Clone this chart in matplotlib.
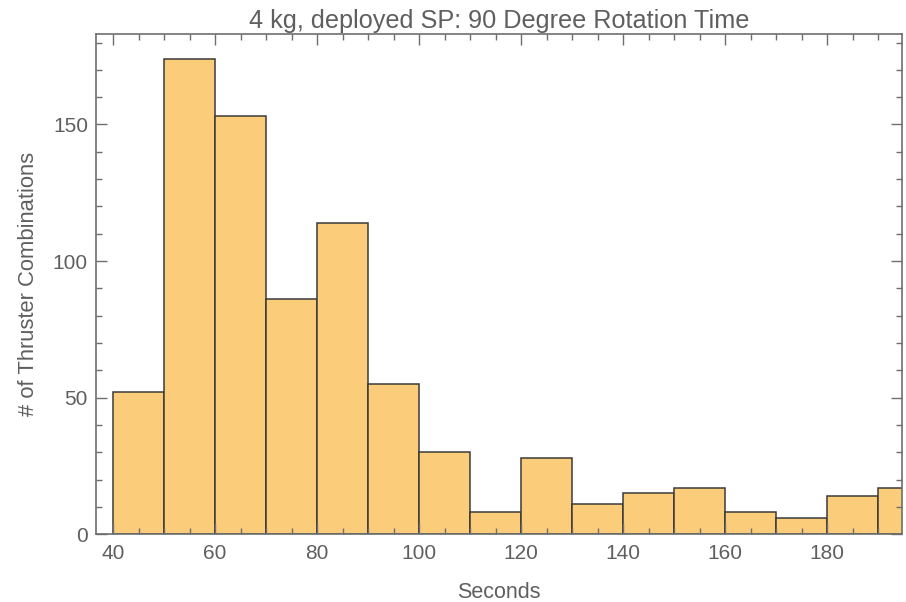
import numpy as np
import matplotlib.pyplot as plt
from matplotlib.ticker import MultipleLocator

# histogram van rotatietijden (bin breedte 10 s)
bin_start = [40, 50, 60, 70, 80, 90, 100, 110, 120, 130, 140, 150, 160, 170, 180, 190]
counts = [52, 174, 153, 86, 114, 55, 30, 8, 28, 11, 15, 17, 8, 6, 14, 17]
bin_width = 10

title = "4 kg, deployed SP: 90 Degree Rotation Time"
xlabel = "Seconds"
ylabel = "# of Thruster Combinations"

plt.rcParams['font.family'] = ['Liberation Sans', 'DejaVu Sans']
txt = '#5f5f5f'
frame = '#6e6e6e'

fig = plt.figure(figsize=(9.06, 6.02), dpi=100)
ax = fig.add_axes([0.1063, 0.1125, 0.8896, 0.8305])

ax.bar(bin_start, counts, width=bin_width, align='edge',
       color='#fbcc7a', edgecolor='#3a3a3a', linewidth=1.1)

ax.set_xlim(36.7, 194.7)
ax.set_ylim(0, 183)

ax.xaxis.set_major_locator(MultipleLocator(20))
ax.xaxis.set_minor_locator(MultipleLocator(5))
ax.yaxis.set_major_locator(MultipleLocator(50))
ax.yaxis.set_minor_locator(MultipleLocator(10))
ax.tick_params(which='both', direction='in', top=True, right=True,
               color=frame, labelcolor=txt, labelsize=15)
ax.tick_params(which='major', length=8, width=1)
ax.tick_params(which='minor', length=4, width=1)
ax.tick_params(axis='x', pad=7)
ax.tick_params(axis='y', pad=6)
for s in ax.spines.values():
    s.set_color(frame)
    s.set_linewidth(1.2)

ax.set_title(title, color=txt, fontsize=18.2, pad=4.5)
ax.set_xlabel(xlabel, color=txt, fontsize=15.5)
ax.xaxis.set_label_coords(0.5, -0.095)
ax.set_ylabel(ylabel, color=txt, fontsize=15.8)
ax.yaxis.set_label_coords(-0.071, 0.5)

fig.savefig('out.png', dpi=100)
